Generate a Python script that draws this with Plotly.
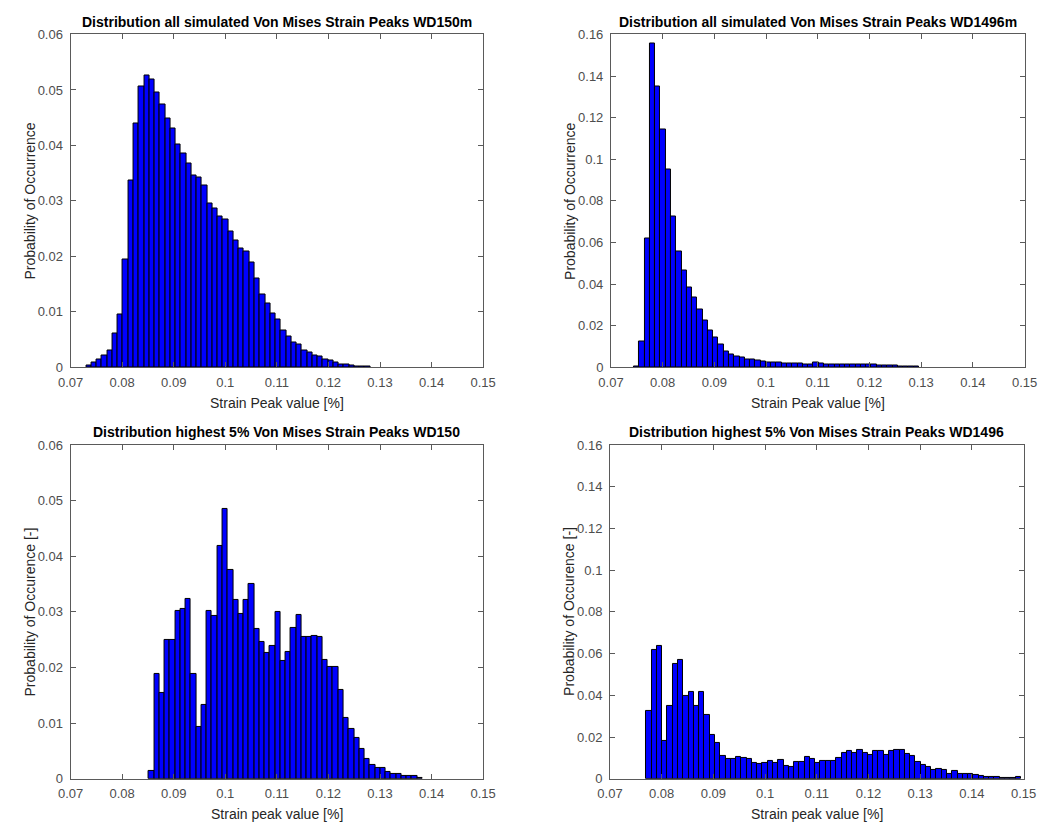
import numpy as np
import plotly.graph_objects as go

# Histogram bin definition (strain peak value [%])
bin_width = 0.00102

# All simulated von Mises strain peaks, WD150m (probability per bin)
wd150_all_start = 0.07303
wd150_all = [
    0.0004, 0.0008, 0.0015, 0.0022, 0.0031, 0.0061, 0.0095, 0.0194, 0.0336, 0.0439,
    0.0506, 0.0526, 0.0518, 0.0495, 0.0474, 0.0448, 0.0431, 0.0401, 0.0386, 0.0367,
    0.0346, 0.0342, 0.0328, 0.0295, 0.0286, 0.0272, 0.0266, 0.0245, 0.0229, 0.0214,
    0.0208, 0.0189, 0.0160, 0.0131, 0.0115, 0.0097, 0.0087, 0.0067, 0.0055, 0.0045,
    0.0041, 0.0031, 0.0027, 0.0022, 0.0020, 0.0014, 0.0012, 0.0009, 0.0006, 0.0005,
    0.0003, 0.0002, 0.0001, 0.0001,
]

# All simulated von Mises strain peaks, WD1496m
wd1496_all_start = 0.07447
wd1496_all = [
    0.0005, 0.0126, 0.0618, 0.1557, 0.1350, 0.1144, 0.0949, 0.0724, 0.0558, 0.0464,
    0.0384, 0.0334, 0.0277, 0.0225, 0.0178, 0.0142, 0.0110, 0.0076, 0.0063, 0.0053,
    0.0046, 0.0038, 0.0036, 0.0031, 0.0028, 0.0025, 0.0025, 0.0024, 0.0020, 0.0020,
    0.0020, 0.0019, 0.0016, 0.0016, 0.0022, 0.0017, 0.0016, 0.0016, 0.0016, 0.0016,
    0.0015, 0.0015, 0.0015, 0.0015, 0.0013, 0.0012, 0.0011, 0.0011, 0.0011, 0.0009,
    0.0006, 0.0006, 0.0005, 0.0005,
]

# Highest 5% of strain peaks, WD150
wd150_top_start = 0.08519
wd150_top = [
    0.0015, 0.0189, 0.0155, 0.0249, 0.0249, 0.0301, 0.0305, 0.0324, 0.0189, 0.0093,
    0.0132, 0.0301, 0.0292, 0.0418, 0.0485, 0.0375, 0.0321, 0.0296, 0.0321, 0.0350,
    0.0269, 0.0246, 0.0226, 0.0238, 0.0299, 0.0212, 0.0228, 0.0271, 0.0295, 0.0255,
    0.0255, 0.0257, 0.0255, 0.0213, 0.0201, 0.0201, 0.0159, 0.0109, 0.0089, 0.0073,
    0.0054, 0.0035, 0.0025, 0.0019, 0.0019, 0.0012, 0.0009, 0.0009, 0.0005, 0.0005,
    0.0005, 0.0002,
]

# Highest 5% of strain peaks, WD1496
wd1496_top_start = 0.07704
wd1496_top = [
    0.0326, 0.0616, 0.0638, 0.0182, 0.0348, 0.0549, 0.0569, 0.0397, 0.0414, 0.0350,
    0.0414, 0.0304, 0.0209, 0.0173, 0.0111, 0.0097, 0.0097, 0.0107, 0.0102, 0.0097,
    0.0078, 0.0069, 0.0074, 0.0085, 0.0074, 0.0089, 0.0061, 0.0056, 0.0083, 0.0083,
    0.0104, 0.0097, 0.0075, 0.0085, 0.0085, 0.0085, 0.0099, 0.0122, 0.0132, 0.0125,
    0.0136, 0.0125, 0.0113, 0.0135, 0.0135, 0.0116, 0.0135, 0.0140, 0.0140, 0.0121,
    0.0110, 0.0080, 0.0067, 0.0058, 0.0042, 0.0049, 0.0044, 0.0024, 0.0038, 0.0025,
    0.0025, 0.0025, 0.0020, 0.0016, 0.0009, 0.0009, 0.0009, 0.0005, 0.0005, 0.0002,
    0.0008,
]

# Axis ticks
x_ticks = [0.07, 0.08, 0.09, 0.10, 0.11, 0.12, 0.13, 0.14, 0.15]
x_ticktext = ["0.07", "0.08", "0.09", "0.1", "0.11", "0.12", "0.13", "0.14", "0.15"]
y_ticks_small = [0.0, 0.01, 0.02, 0.03, 0.04, 0.05, 0.06]
y_ticktext_small = ["0", "0.01", "0.02", "0.03", "0.04", "0.05", "0.06"]
y_ticks_large = [0.0, 0.02, 0.04, 0.06, 0.08, 0.10, 0.12, 0.14, 0.16]
y_ticktext_large = ["0", "0.02", "0.04", "0.06", "0.08", "0.1", "0.12", "0.14", "0.16"]

titles = [
    "Distribution all simulated Von Mises Strain Peaks WD150m",
    "Distribution all simulated Von Mises Strain Peaks WD1496m",
    "Distribution highest 5% Von Mises Strain Peaks WD150",
    "Distribution highest 5% Von Mises Strain Peaks WD1496",
]
x_labels = ["Strain Peak value [%]", "Strain Peak value [%]",
            "Strain peak value [%]", "Strain peak value [%]"]
y_labels = ["Probability of Occurrence", "Probability of Occurrence",
            "Probability of Occurence [-]", "Probability of Occurence [-]"]

W, H = 1060, 831
FONT = "Liberation Sans, Arial, Helvetica, sans-serif"
BAR_COLOR = "#0000ff"
AXIS_COLOR = "#5a5a5a"
TICK_FONT_COLOR = "#4d4d4d"
LABEL_COLOR = "#262626"

# Axes boxes in pixels: (left, right, top, bottom)
boxes = [
    (59, 482, 28, 367),
    (613, 1037, 28, 367),
    (59, 482, 446, 786),
    (612, 1036, 446, 786),
]

series = [
    (wd150_all_start, wd150_all, y_ticks_small, y_ticktext_small, 0.06),
    (wd1496_all_start, wd1496_all, y_ticks_large, y_ticktext_large, 0.16),
    (wd150_top_start, wd150_top, y_ticks_small, y_ticktext_small, 0.06),
    (wd1496_top_start, wd1496_top, y_ticks_large, y_ticktext_large, 0.16),
]

fig = go.Figure()
annotations = []
layout_axes = {}

for i, ((start, vals, yt, ytt, ymax), (l, r, t, b)) in enumerate(zip(series, boxes)):
    n = i + 1
    suffix = "" if n == 1 else str(n)
    vals = np.asarray(vals)
    centers = start + (np.arange(len(vals)) + 0.5) * bin_width
    fig.add_trace(go.Bar(
        x=centers, y=vals, width=bin_width,
        marker=dict(color=BAR_COLOR, line=dict(color="black", width=1)),
        xaxis="x" + suffix, yaxis="y" + suffix, showlegend=False,
    ))
    common = dict(
        showline=True, linecolor=AXIS_COLOR, linewidth=1, mirror="ticks",
        ticks="inside", ticklen=5, tickcolor=AXIS_COLOR, tickwidth=1,
        showgrid=False, zeroline=False,
        tickfont=dict(family=FONT, size=13, color=TICK_FONT_COLOR),
    )
    layout_axes["xaxis" + suffix] = dict(
        common, domain=[l / W, r / W], anchor="y" + suffix,
        range=[0.07, 0.15], tickvals=x_ticks, ticktext=x_ticktext,
        ticklabelstandoff=3,
    )
    layout_axes["yaxis" + suffix] = dict(
        common, domain=[1 - b / H, 1 - t / H], anchor="x" + suffix,
        range=[0, ymax], tickvals=yt, ticktext=ytt,
        ticklabelstandoff=4,
    )
    cx = (l + r) / 2
    annotations.append(dict(
        text="<b>" + titles[i] + "</b>", x=cx / W, y=1 - (t - 13) / H,
        xref="paper", yref="paper", xanchor="center", yanchor="middle",
        showarrow=False, font=dict(family=FONT, size=14, color="black"),
    ))
    annotations.append(dict(
        text=x_labels[i], x=cx / W, y=1 - (b + 36) / H,
        xref="paper", yref="paper", xanchor="center", yanchor="middle",
        showarrow=False, font=dict(family=FONT, size=14, color=LABEL_COLOR),
    ))
    annotations.append(dict(
        text=y_labels[i], x=(l - 42) / W, y=1 - (t + b) / 2 / H,
        xref="paper", yref="paper", xanchor="center", yanchor="middle",
        textangle=-90, showarrow=False,
        font=dict(family=FONT, size=14, color=LABEL_COLOR),
    ))

fig.update_layout(
    width=W, height=H,
    margin=dict(l=0, r=0, t=0, b=0),
    paper_bgcolor="white", plot_bgcolor="white",
    bargap=0, barmode="overlay",
    annotations=annotations,
    **layout_axes,
)

fig.write_html("out.html")
